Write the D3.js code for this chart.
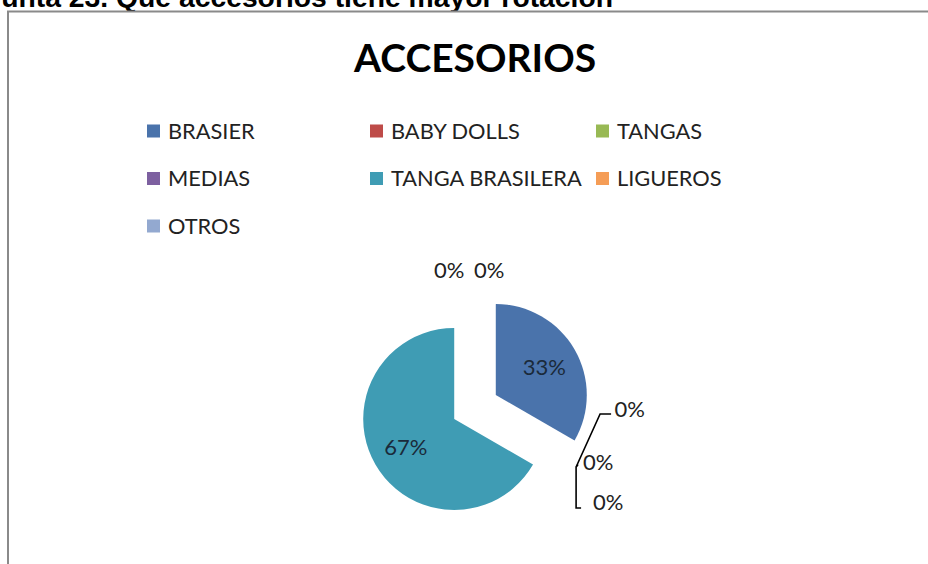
<!DOCTYPE html>
<html><head><meta charset="utf-8">
<script src="https://cdn.jsdelivr.net/npm/d3@7"></script>
<style>body{margin:0;background:#fff;overflow:hidden} svg{display:block}</style>
</head><body>
<script>
// ---- data ----
const categories = ["BRASIER","BABY DOLLS","TANGAS","MEDIAS","TANGA BRASILERA","LIGUEROS","OTROS"];
const values = [1,0,0,0,2,0,0];
const colors = ["#4A73AB","#BE4B48","#98B954","#7D60A0","#3F9CB4","#F59D56","#93A9D0"];
const chartTitle = "ACCESORIOS";
const pageHeading = "Pregunta 23. Qué accesorios tiene mayor rotación";

// ---- layout ----
const W = 928, H = 564;
const cx = 475, cy = 407, R = 91, explode = 24, labelR = 56;
const font = "Lato, 'Open Sans', sans-serif";

const svg = d3.select("body").append("svg").attr("width", W).attr("height", H);
svg.append("rect").attr("width", W).attr("height", H).attr("fill", "#fff");

// page heading (cut off at top like the reference)
svg.append("text").attr("x", 613).attr("y", 6.5).attr("text-anchor", "end")
  .attr("font-family", "'Liberation Sans', Arial, sans-serif").attr("font-weight", "bold")
  .attr("font-size", 28.3).attr("fill", "#000").text(pageHeading);

// chart frame
svg.append("rect").attr("x", 8).attr("y", 11.5).attr("width", 1000).attr("height", 700)
  .attr("fill", "#fff").attr("stroke", "#8a8a8a").attr("stroke-width", 2);

// title
svg.append("text").attr("x", cx).attr("y", 72).attr("text-anchor", "middle")
  .attr("font-family", font).attr("font-weight", "bold").attr("font-size", 39)
  .attr("fill", "#000").text(chartTitle);

// legend
const colScale = d3.scaleOrdinal().domain([0,1,2]).range([147, 370, 596]);
const rowScale = d3.scaleLinear().domain([0, 1]).range([131, 178.5]);
const leg = svg.append("g").selectAll("g").data(categories).join("g")
  .attr("transform", (d, i) => `translate(${colScale(i % 3)},${rowScale(Math.floor(i / 3))})`);
leg.append("rect").attr("x", 0).attr("y", -6.5).attr("width", 13).attr("height", 13)
  .attr("fill", (d, i) => colors[i]);
leg.append("text").attr("x", 21).attr("y", 0).attr("dy", "0.36em")
  .attr("font-family", font).attr("font-size", 21.8).attr("fill", "#222").text(d => d);

// pie
const total = d3.sum(values);
const pie = d3.pie().sort(null).value(d => d).startAngle(0).endAngle(2 * Math.PI);
const arcs = pie(values).map((a, i) => ({...a, i}));
const arcGen = d3.arc().innerRadius(0).outerRadius(R);
const labelArc = d3.arc().innerRadius(labelR).outerRadius(labelR);
const fmt = d3.format(".0%");
const off = a => {
  const m = (a.startAngle + a.endAngle) / 2;
  return [Math.sin(m) * explode, -Math.cos(m) * explode];
};

const g = svg.append("g").attr("transform", `translate(${cx},${cy})`);
g.selectAll("path").data(arcs.filter(a => a.value > 0)).join("path")
  .attr("transform", a => `translate(${off(a)})`)
  .attr("d", arcGen).attr("fill", a => colors[a.i]);

// labels for non-zero slices
g.selectAll("text.in").data(arcs.filter(a => a.value > 0)).join("text")
  .attr("class", "in")
  .attr("transform", a => { const o = off(a), c = labelArc.centroid(a); return `translate(${o[0] + c[0]},${o[1] + c[1]})`; })
  .attr("text-anchor", "middle").attr("dy", "0.36em")
  .attr("font-family", font).attr("font-size", 22).attr("fill", "#1a2a3a")
  .text(a => fmt(a.value / total));

// zero-value labels: anchored at the rim point of their (empty) slice
const zeroArcs = arcs.filter(a => a.value === 0);
const zeroLayout = {
  1: {dx: 40, dy: -55, leader: [[1.5, 2.5], [25.5, -50.5], [36.5, -50.5]]},
  2: {dx: 8.5, dy: -2.5, leader: [[1.5, 2.5], [3.5, 0]]},
  3: {dx: 18.5, dy: 38, leader: [[1.5, 2.5], [1.5, 43.5], [6.5, 43.5]]},
  5: {dx: -41, dy: -21.5, leader: null},
  6: {dx: -1, dy: -21.5, leader: null}
};
const anchor = a => {
  const o = off(a);
  return [o[0] + Math.sin(a.startAngle) * R, o[1] - Math.cos(a.startAngle) * R];
};
zeroArcs.forEach(a => {
  const p = anchor(a), L = zeroLayout[a.i];
  if (L.leader) {
    g.append("path").attr("d", d3.line()(L.leader.map(q => [p[0] + q[0], p[1] + q[1]])))
      .attr("fill", "none").attr("stroke", "#000").attr("stroke-width", 1.6);
  }
  g.append("text").attr("x", p[0] + L.dx).attr("y", p[1] + L.dy).attr("dy", "0.36em")
    .attr("font-family", font).attr("font-size", 22).attr("fill", "#222")
    .text(fmt(a.value / total));
});
</script>
</body></html>
